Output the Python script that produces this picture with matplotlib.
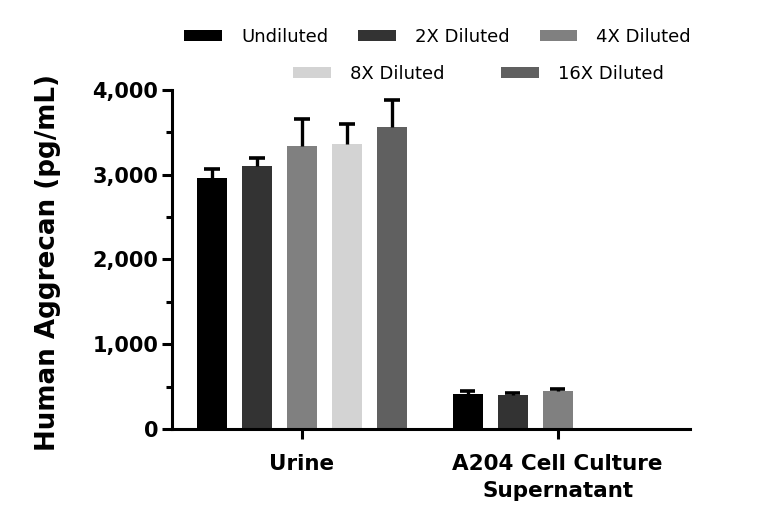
import matplotlib
matplotlib.use("Agg")
import matplotlib.pyplot as plt
from matplotlib.patches import Patch
from matplotlib.ticker import MultipleLocator, FuncFormatter
import numpy as np

# data
groups = ["Urine", "A204 Cell Culture\nSupernatant"]
series = ["Undiluted", "2X Diluted", "4X Diluted", "8X Diluted", "16X Diluted"]
colors = ["#000000", "#333333", "#808080", "#d3d3d3", "#606060"]
urine_mean = [2956, 3108, 3343, 3367, 3566]
urine_err = [117, 94, 317, 234, 317]
a204_mean = [410, 400, 445]
a204_err = [35, 30, 25]

plt.rcParams["font.family"] = ["DejaVu Sans"]

fig = plt.figure(figsize=(7.68, 5.29), dpi=100)
ax = fig.add_axes([0.224, 0.189, 0.674, 0.641])

width = 0.117
step = 0.176
cap = 0.03
offsets = (np.arange(len(series)) - 2) * step

for i, s in enumerate(series):
    xs = [0 + offsets[i]]
    ys = [urine_mean[i]]
    es = [urine_err[i]]
    if i < len(a204_mean):
        xs.append(1 + offsets[i]); ys.append(a204_mean[i]); es.append(a204_err[i])
    xs, ys, es = np.array(xs), np.array(ys), np.array(es)
    ax.bar(xs, ys, width=width, color=colors[i], zorder=2)
    # upper error bars only
    ax.vlines(xs, ys, ys + es, color="black", lw=2.4, zorder=3)
    ax.hlines(ys + es, xs - cap, xs + cap, color="black", lw=2.6, zorder=3)

ax.set_xlim(-0.508, 1.516)
ax.set_ylim(0, 4000)
ax.set_xticks([0, 1])
ax.set_xticklabels(groups, fontsize=15.5, fontweight="bold", linespacing=1.45)
ax.yaxis.set_major_locator(MultipleLocator(1000))
ax.yaxis.set_minor_locator(MultipleLocator(500))
ax.yaxis.set_major_formatter(FuncFormatter(lambda v, p: f"{int(v):,}"))
for t in ax.get_yticklabels():
    t.set_fontsize(15)
    t.set_fontweight("bold")
ax.set_ylabel("Human Aggrecan (pg/mL)", fontsize=18.8, fontweight="bold")
ax.yaxis.set_label_coords(-0.214, 0.49)

for side in ["top", "right"]:
    ax.spines[side].set_visible(False)
for side in ["left", "bottom"]:
    ax.spines[side].set_linewidth(2.2)
ax.tick_params(axis="both", which="major", width=2.2, length=7, pad=3)
ax.tick_params(axis="x", which="major", pad=11)
ax.tick_params(axis="y", which="minor", width=2.2, length=4)

h = [Patch(facecolor=c) for c in colors]
kw = dict(frameon=False, fontsize=13, loc="center", handlelength=2.1,
          handleheight=0.55, handletextpad=1.05, borderpad=0, borderaxespad=0)
leg1 = fig.legend(h[:3], series[:3], ncol=3, bbox_to_anchor=(0.570, 0.930),
                  columnspacing=1.65, **kw)
leg2 = fig.legend(h[3:], series[3:], ncol=2, bbox_to_anchor=(0.623, 0.860),
                  columnspacing=3.1, **kw)

fig.savefig("out.png", dpi=100)
